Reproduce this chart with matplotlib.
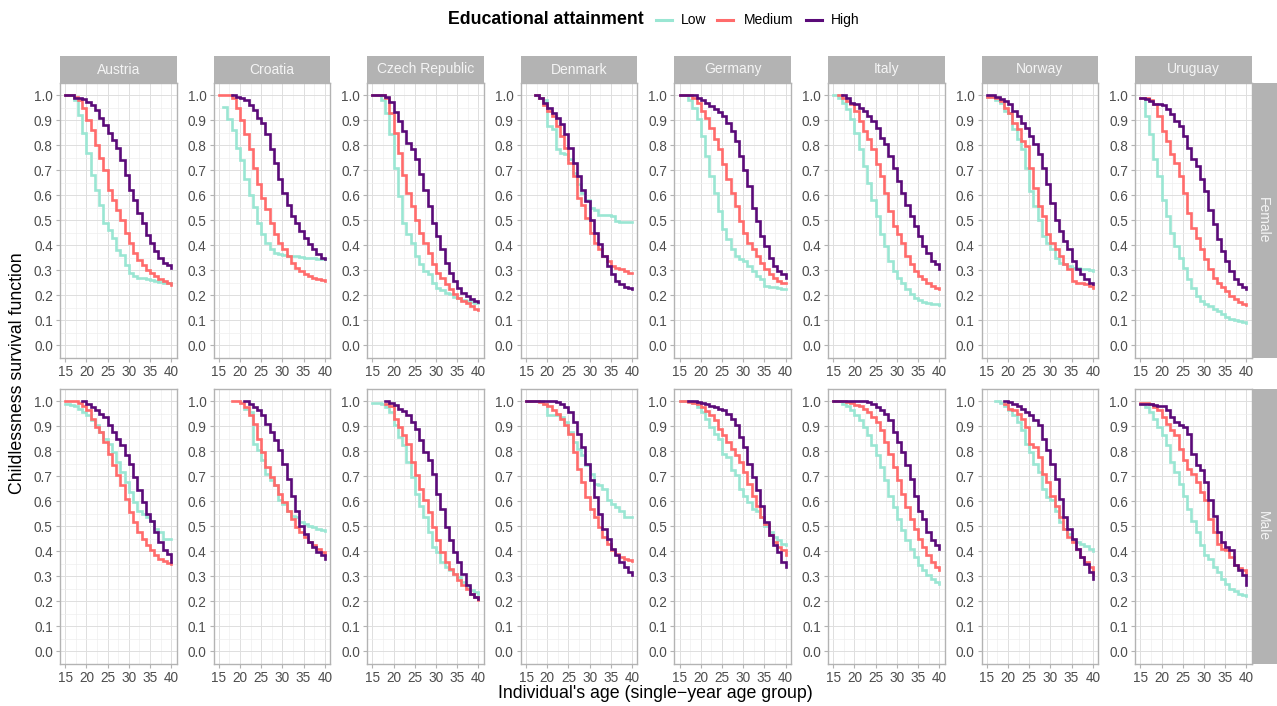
import numpy as np
import matplotlib
matplotlib.use("Agg")
import matplotlib.pyplot as plt
from matplotlib.lines import Line2D

plt.rcParams['font.family'] = ['Liberation Sans', 'DejaVu Sans']

# ---------------- data ----------------
ages = list(range(15, 41))
countries = ["Austria", "Croatia", "Czech Republic", "Denmark",
             "Germany", "Italy", "Norway", "Uruguay"]
sexes = ["Female", "Male"]
levels = ["Low", "Medium", "High"]
x_ticks = [15, 20, 25, 30, 35, 40]
x_tick_labels = ["15", "20", "25", "30", "35", "40"]
y_ticks = [0.0, 0.1, 0.2, 0.3, 0.4, 0.5, 0.6, 0.7, 0.8, 0.9, 1.0]
y_tick_labels = ["0.0", "0.1", "0.2", "0.3", "0.4", "0.5", "0.6", "0.7", "0.8", "0.9", "1.0"]
N = None

low_female = {
    "Austria": [1.0,1.0,0.98,0.92,0.85,0.77,0.68,0.62,0.56,0.49,0.46,0.43,0.38,0.36,0.32,0.29,0.277,0.27,0.267,0.263,0.26,0.256,0.253,0.25,0.247,0.243],
    "Croatia": [N,0.955,0.905,0.86,0.79,0.74,0.665,0.6,0.555,0.49,0.445,0.41,0.385,0.37,0.363,0.36,0.358,0.356,0.355,0.354,0.35,0.348,0.347,0.346,0.345,0.343],
    "Czech Republic": [1,1,0.983,0.93,0.845,0.71,0.597,0.49,0.443,0.41,0.356,0.323,0.296,0.283,0.25,0.23,0.22,0.21,0.203,0.194,0.187,0.18,0.176,0.172,0.17,0.167],
    "Denmark": [N,N,1.0,0.99,0.98,0.877,0.864,0.784,0.77,0.764,0.744,0.69,0.644,0.61,0.583,0.55,0.543,0.523,0.523,0.523,0.517,0.497,0.493,0.493,0.493,0.493],
    "Germany": [1,1,0.98,0.95,0.904,0.837,0.757,0.677,0.61,0.537,0.463,0.423,0.383,0.356,0.343,0.336,0.316,0.296,0.276,0.263,0.236,0.234,0.234,0.23,0.226,0.226],
    "Italy": [1.0,0.99,0.97,0.944,0.904,0.85,0.784,0.717,0.65,0.583,0.517,0.443,0.397,0.336,0.296,0.27,0.25,0.223,0.203,0.19,0.18,0.174,0.17,0.166,0.163,0.16],
    "Norway": [0.995,0.995,0.983,0.97,0.937,0.93,0.864,0.824,0.784,0.71,0.617,0.557,0.503,0.437,0.41,0.383,0.35,0.33,0.323,0.316,0.31,0.31,0.306,0.303,0.3,0.296],
    "Uruguay": [0.99,0.917,0.844,0.744,0.677,0.583,0.517,0.45,0.397,0.35,0.31,0.263,0.23,0.196,0.176,0.163,0.156,0.146,0.136,0.123,0.113,0.105,0.1,0.096,0.092,0.09],
}
medium_female = {
    "Austria": [1.0,1.0,0.995,0.98,0.95,0.90,0.86,0.80,0.75,0.70,0.62,0.58,0.54,0.50,0.45,0.41,0.37,0.34,0.32,0.30,0.29,0.275,0.265,0.255,0.247,0.24],
    "Croatia": [1.0,1.0,1.0,0.99,0.95,0.9,0.845,0.785,0.71,0.645,0.59,0.545,0.49,0.443,0.41,0.383,0.357,0.33,0.31,0.296,0.283,0.276,0.27,0.266,0.26,0.256],
    "Czech Republic": [1,1,1,0.99,0.93,0.85,0.77,0.683,0.61,0.557,0.503,0.45,0.41,0.37,0.323,0.29,0.27,0.243,0.223,0.203,0.19,0.176,0.167,0.156,0.146,0.14],
    "Denmark": [N,N,1.0,0.99,0.963,0.937,0.917,0.877,0.837,0.79,0.73,0.677,0.59,0.563,0.51,0.45,0.41,0.383,0.356,0.336,0.316,0.31,0.303,0.296,0.29,0.29],
    "Germany": [1,1,1,0.99,0.97,0.937,0.91,0.87,0.824,0.784,0.724,0.664,0.61,0.557,0.497,0.45,0.41,0.383,0.356,0.33,0.303,0.283,0.267,0.256,0.25,0.247],
    "Italy": [N,1.0,0.99,0.977,0.964,0.937,0.897,0.857,0.824,0.784,0.724,0.677,0.61,0.537,0.477,0.443,0.41,0.356,0.323,0.296,0.276,0.263,0.25,0.236,0.23,0.226],
    "Norway": [0.995,0.995,0.99,0.977,0.95,0.93,0.89,0.864,0.817,0.797,0.71,0.63,0.557,0.517,0.443,0.41,0.383,0.356,0.323,0.303,0.256,0.25,0.247,0.243,0.236,0.23],
    "Uruguay": [0.99,0.99,0.983,0.964,0.917,0.857,0.817,0.764,0.73,0.677,0.61,0.53,0.47,0.43,0.383,0.343,0.303,0.27,0.25,0.234,0.216,0.196,0.183,0.172,0.163,0.16],
}
high_female = {
    "Austria": [1.0,1.0,0.99,0.99,0.985,0.975,0.96,0.94,0.91,0.88,0.85,0.82,0.79,0.74,0.68,0.62,0.58,0.53,0.49,0.44,0.41,0.375,0.35,0.33,0.32,0.31],
    "Croatia": [N,N,N,1.0,0.995,0.99,0.98,0.96,0.94,0.91,0.89,0.845,0.785,0.73,0.665,0.61,0.563,0.517,0.49,0.456,0.43,0.403,0.383,0.363,0.35,0.343],
    "Czech Republic": [1,1,1,0.995,0.975,0.935,0.897,0.857,0.81,0.784,0.744,0.684,0.623,0.557,0.49,0.437,0.383,0.33,0.29,0.256,0.23,0.21,0.196,0.186,0.176,0.172],
    "Denmark": [N,N,1.0,0.99,0.97,0.95,0.93,0.91,0.884,0.844,0.79,0.73,0.677,0.623,0.577,0.503,0.45,0.403,0.356,0.316,0.283,0.256,0.243,0.234,0.23,0.226],
    "Germany": [1,1,1,1,0.99,0.98,0.97,0.956,0.944,0.935,0.917,0.89,0.857,0.817,0.757,0.703,0.637,0.55,0.497,0.437,0.397,0.35,0.316,0.296,0.283,0.27],
    "Italy": [N,N,1.0,0.99,0.97,0.964,0.95,0.937,0.917,0.897,0.87,0.83,0.804,0.757,0.71,0.657,0.61,0.563,0.517,0.477,0.437,0.397,0.37,0.336,0.323,0.303],
    "Norway": [1.0,1.0,0.995,0.987,0.977,0.964,0.937,0.917,0.89,0.87,0.837,0.804,0.764,0.71,0.644,0.57,0.503,0.457,0.417,0.383,0.336,0.303,0.283,0.263,0.25,0.243],
    "Uruguay": [0.99,0.987,0.977,0.967,0.964,0.96,0.944,0.924,0.897,0.877,0.837,0.79,0.744,0.717,0.664,0.617,0.543,0.483,0.423,0.376,0.336,0.296,0.263,0.243,0.234,0.226],
}
low_male = {
    "Austria": [0.99,0.987,0.98,0.97,0.956,0.944,0.924,0.904,0.877,0.85,0.83,0.797,0.757,0.717,0.677,0.637,0.597,0.563,0.55,0.537,0.523,0.49,0.477,0.45,0.447,0.447],
    "Croatia": [N,N,N,N,N,N,0.97,0.956,0.83,0.804,0.764,0.71,0.684,0.664,0.604,0.59,0.563,0.543,0.537,0.517,0.51,0.503,0.497,0.487,0.483,0.48],
    "Czech Republic": [0.995,0.995,0.99,0.977,0.956,0.904,0.857,0.824,0.757,0.697,0.63,0.583,0.537,0.477,0.417,0.397,0.356,0.336,0.323,0.31,0.296,0.276,0.256,0.243,0.236,0.23],
    "Denmark": [1,1,1,1,0.99,0.944,0.944,0.944,0.937,0.917,0.877,0.837,0.81,0.784,0.744,0.71,0.67,0.664,0.65,0.604,0.59,0.577,0.563,0.537,0.537,0.537],
    "Germany": [1,1,1,0.995,0.977,0.956,0.93,0.897,0.87,0.85,0.79,0.777,0.724,0.704,0.65,0.623,0.597,0.57,0.563,0.537,0.503,0.477,0.457,0.443,0.43,0.423],
    "Italy": [1,1,0.99,0.98,0.964,0.944,0.924,0.897,0.864,0.824,0.784,0.737,0.684,0.623,0.577,0.53,0.483,0.443,0.41,0.376,0.343,0.323,0.303,0.29,0.276,0.27],
    "Norway": [N,N,1.0,0.995,0.983,0.964,0.944,0.917,0.884,0.83,0.797,0.75,0.717,0.65,0.617,0.604,0.563,0.517,0.49,0.47,0.443,0.437,0.43,0.42,0.41,0.4],
    "Uruguay": [0.99,0.977,0.956,0.93,0.897,0.864,0.824,0.757,0.717,0.67,0.623,0.57,0.523,0.477,0.423,0.383,0.37,0.336,0.316,0.29,0.27,0.25,0.24,0.23,0.226,0.22],
}
medium_male = {
    "Austria": [1,1,1,0.995,0.983,0.964,0.93,0.897,0.877,0.837,0.79,0.744,0.704,0.664,0.61,0.557,0.517,0.477,0.45,0.423,0.403,0.383,0.37,0.36,0.352,0.35],
    "Croatia": [N,N,N,1.0,1.0,0.995,0.977,0.944,0.91,0.85,0.797,0.737,0.697,0.664,0.63,0.597,0.563,0.53,0.497,0.477,0.457,0.437,0.423,0.41,0.397,0.383],
    "Czech Republic": [N,N,N,0.99,0.983,0.93,0.897,0.864,0.83,0.757,0.704,0.65,0.604,0.557,0.497,0.443,0.397,0.356,0.33,0.31,0.283,0.263,0.25,0.23,0.216,0.203],
    "Denmark": [1,1,1,0.997,0.99,0.98,0.964,0.95,0.93,0.904,0.87,0.797,0.73,0.677,0.617,0.57,0.537,0.497,0.457,0.43,0.403,0.39,0.376,0.37,0.363,0.36],
    "Germany": [1,1,0.997,0.995,0.99,0.977,0.96,0.944,0.924,0.89,0.864,0.837,0.81,0.784,0.757,0.717,0.67,0.623,0.583,0.537,0.51,0.463,0.437,0.417,0.403,0.383],
    "Italy": [1,1,1,0.997,0.995,0.987,0.983,0.97,0.956,0.937,0.917,0.884,0.837,0.79,0.737,0.684,0.63,0.577,0.53,0.49,0.45,0.417,0.383,0.356,0.336,0.323],
    "Norway": [N,N,N,N,0.99,0.97,0.964,0.95,0.93,0.897,0.83,0.817,0.777,0.71,0.677,0.623,0.583,0.537,0.49,0.457,0.437,0.41,0.376,0.356,0.336,0.31],
    "Uruguay": [0.995,0.995,0.99,0.977,0.964,0.937,0.91,0.884,0.864,0.81,0.764,0.73,0.71,0.677,0.637,0.604,0.53,0.477,0.43,0.41,0.403,0.376,0.343,0.332,0.323,0.303],
}
high_male = {
    "Austria": [N,N,N,N,1.0,0.99,0.977,0.964,0.95,0.937,0.904,0.877,0.85,0.824,0.784,0.75,0.697,0.644,0.597,0.55,0.523,0.477,0.437,0.403,0.39,0.356],
    "Croatia": [N,N,N,N,N,N,1.0,0.99,0.977,0.964,0.944,0.91,0.877,0.844,0.804,0.75,0.69,0.623,0.563,0.503,0.47,0.437,0.417,0.397,0.383,0.37],
    "Czech Republic": [N,N,N,1.0,0.995,0.987,0.97,0.96,0.944,0.917,0.89,0.844,0.797,0.764,0.71,0.63,0.57,0.497,0.443,0.397,0.356,0.31,0.263,0.23,0.216,0.21],
    "Denmark": [1,1,1,1,1,1,1,0.997,0.99,0.977,0.956,0.917,0.87,0.817,0.75,0.684,0.617,0.55,0.49,0.45,0.41,0.383,0.356,0.336,0.316,0.306],
    "Germany": [N,N,1.0,1.0,0.997,0.995,0.99,0.983,0.977,0.97,0.964,0.95,0.93,0.904,0.857,0.817,0.75,0.697,0.644,0.583,0.517,0.463,0.423,0.397,0.356,0.336],
    "Italy": [1,1,1,1,1,1,1,1,0.997,0.99,0.977,0.964,0.95,0.924,0.877,0.837,0.797,0.744,0.69,0.623,0.563,0.53,0.477,0.443,0.423,0.41],
    "Norway": [N,N,N,N,1.0,0.997,0.99,0.983,0.97,0.956,0.944,0.924,0.904,0.85,0.804,0.75,0.69,0.61,0.537,0.49,0.45,0.41,0.376,0.35,0.316,0.29],
    "Uruguay": [0.99,0.99,0.99,0.987,0.98,0.98,0.964,0.937,0.917,0.904,0.897,0.87,0.79,0.744,0.724,0.677,0.604,0.543,0.477,0.437,0.417,0.403,0.343,0.323,0.303,0.263],
}

series = {
    ("Female", "Low"): low_female, ("Female", "Medium"): medium_female, ("Female", "High"): high_female,
    ("Male", "Low"): low_male, ("Male", "Medium"): medium_male, ("Male", "High"): high_male,
}
colors = {"Low": "#9AE6D3", "Medium": "#FF6B6B", "High": "#5A0A78"}

# ---------------- layout ----------------
W, H = 1277, 706
fig = plt.figure(figsize=(W / 100, H / 100), dpi=100)
lefts = [60 + 153.6 * i for i in range(8)]
tops = [83, 389]
pw, ph = 116.5, 274.5
strip_col = "#B3B3B3"
age_arr = np.array(ages, dtype=float)

for r, sex in enumerate(sexes):
    for c, country in enumerate(countries):
        ax = fig.add_axes([lefts[c] / W, 1 - (tops[r] + ph) / H, pw / W, ph / H])
        ax.set_xlim(13.75, 41.25)
        ax.set_ylim(-0.05, 1.05)
        ax.set_xticks(x_ticks)
        ax.set_xticklabels(x_tick_labels)
        ax.set_yticks(y_ticks)
        ax.set_yticklabels(y_tick_labels)
        ax.set_xticks([17.5, 22.5, 27.5, 32.5, 37.5], minor=True)
        ax.set_yticks([0.05, 0.15, 0.25, 0.35, 0.45, 0.55, 0.65, 0.75, 0.85, 0.95], minor=True)
        ax.tick_params(which="major", length=3.2, width=0.8, color=strip_col,
                       labelsize=9.8, labelcolor="#4D4D4D", pad=2)
        ax.tick_params(which="minor", length=0)
        ax.grid(which="major", color="#DEDEDE", lw=0.7)
        ax.grid(which="minor", color="#EEEEEE", lw=0.5)
        ax.set_axisbelow(True)
        for s in ax.spines.values():
            s.set_color(strip_col)
            s.set_linewidth(1.0)
        for lev in levels:
            vals = np.array([np.nan if v is None else v for v in series[(sex, lev)][country]], dtype=float)
            m = ~np.isnan(vals)
            ax.step(age_arr[m], vals[m], where="post", color=colors[lev], lw=1.9, solid_joinstyle="miter")
        if r == 0:
            sax = fig.add_axes([lefts[c] / W, 1 - 83 / H, pw / W, 27 / H])
            sax.set_facecolor(strip_col)
            sax.set_xticks([]); sax.set_yticks([])
            for s in sax.spines.values():
                s.set_visible(False)
            sax.text(0.5, 0.5, country, color="#F5F5F5", fontsize=10, ha="center", va="center",
                     transform=sax.transAxes)
    rax = fig.add_axes([1252 / W, 1 - (tops[r] + ph) / H, 25 / W, ph / H])
    rax.set_facecolor(strip_col)
    rax.set_xticks([]); rax.set_yticks([])
    for s in rax.spines.values():
        s.set_visible(False)
    rax.text(0.45, 0.5, sex, color="#F5F5F5", fontsize=10, ha="center", va="center",
             rotation=-90, transform=rax.transAxes)

fig.text(18 / W, 1 - 373 / H, "Childlessness survival function", rotation=90,
         fontsize=12.8, ha="center", va="center")
fig.text(655 / W, 1 - 693 / H, "Individual's age (single\u2212year age group)",
         fontsize=12.8, ha="center", va="center")

# legend
ly = 1 - 20 / H
fig.text(448 / W, ly, "Educational attainment", fontsize=12.8, fontweight="bold",
         ha="left", va="center")
key_x = {"Low": 656, "Medium": 717, "High": 806}
lab_x = {"Low": 681, "Medium": 744, "High": 831}
for lev in levels:
    fig.add_artist(Line2D([key_x[lev] / W, (key_x[lev] + 16) / W], [ly, ly],
                          transform=fig.transFigure, color=colors[lev], lw=2.2))
    fig.text(lab_x[lev] / W, ly, lev, fontsize=10, ha="left", va="center")

fig.savefig("out.png", dpi=100)
